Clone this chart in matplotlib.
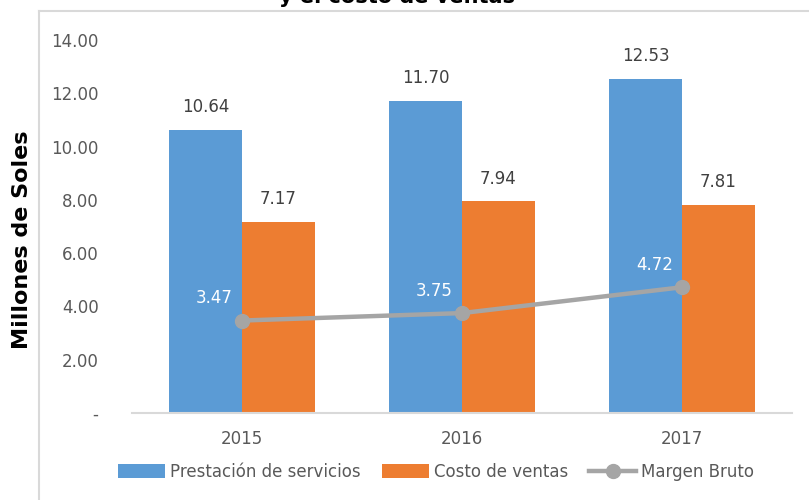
import matplotlib.pyplot as plt
import matplotlib.lines as mlines
import numpy as np

# datos del grafico (millones de soles)
anios = ['2015', '2016', '2017']
prestacion = [10.64, 11.70, 12.53]
costo = [7.17, 7.94, 7.81]
margen = [3.47, 3.75, 4.72]
yticks = [0, 2, 4, 6, 8, 10, 12, 14]
ytick_labels = ['-', '2.00', '4.00', '6.00', '8.00', '10.00', '12.00', '14.00']

azul = '#5B9BD5'
naranja = '#ED7D31'
gris = '#A5A5A5'
texto = '#595959'

plt.rcParams['font.family'] = ['DejaVu Sans']

fig = plt.figure(figsize=(8.09, 5.0), dpi=100)
ax = fig.add_axes([0.163, 0.174, 0.816, 0.746])

x = np.arange(len(anios))
w = 0.33
b1 = ax.bar(x - w / 2, prestacion, w, color=azul, label='Prestación de servicios')
b2 = ax.bar(x + w / 2, costo, w, color=naranja, label='Costo de ventas')
ln, = ax.plot(x, margen, color=gris, lw=3.2, marker='o', ms=10, label='Margen Bruto', zorder=3)

# etiquetas de valores
for rect, v in zip(list(b1) + list(b2), prestacion + costo):
    ax.annotate('%.2f' % v, (rect.get_x() + rect.get_width() / 2, v),
                xytext=(0, 10), textcoords='offset points',
                ha='center', va='bottom', fontsize=12, color='#404040')
for xi, v in zip(x, margen):
    ax.annotate('%.2f' % v, (xi, v), xytext=(-20, 16), textcoords='offset points',
                ha='center', va='center', fontsize=12, color='white', zorder=4)

ax.set_xlim(-0.5, 2.5)
ax.set_ylim(0, 14)
ax.set_xticks(x)
ax.set_xticklabels(anios, fontsize=12, color=texto)
ax.set_yticks(yticks)
ax.set_yticklabels(ytick_labels, fontsize=12, color=texto)
ax.tick_params(axis='both', length=0)
ax.tick_params(axis='y', pad=24)
ax.tick_params(axis='x', pad=12)
for s in ['left', 'right', 'top']:
    ax.spines[s].set_visible(False)
ax.spines['bottom'].set_color('#D9D9D9')
ax.spines['bottom'].set_linewidth(1.5)

fig.text(22 / 809, 1 - 240 / 500, 'Millones de Soles', rotation=90, ha='center', va='center',
         fontsize=16, fontweight='bold', color='black')

# titulo (cortado en la parte superior, como en el original)
fig.text(397 / 809, 1 - 7 / 500, 'y el costo de ventas', ha='center', va='bottom',
         fontsize=15, fontweight='bold', color='black')

# borde del area del grafico
fig.add_artist(mlines.Line2D([39 / 809, 39 / 809], [0, 1 - 11 / 500], transform=fig.transFigure,
                             color='#D9D9D9', lw=1.5))
fig.add_artist(mlines.Line2D([39 / 809, 1], [1 - 11 / 500, 1 - 11 / 500], transform=fig.transFigure,
                             color='#D9D9D9', lw=1.5))

leg = fig.legend(handles=[b1, b2, ln], loc='center', bbox_to_anchor=(436 / 809, 1 - 472 / 500),
                 ncol=3, frameon=False, fontsize=12, handlelength=2.8, handleheight=0.9,
                 handletextpad=0.3, columnspacing=1.3)
for t in leg.get_texts():
    t.set_color(texto)

fig.savefig('out.png', dpi=100)
